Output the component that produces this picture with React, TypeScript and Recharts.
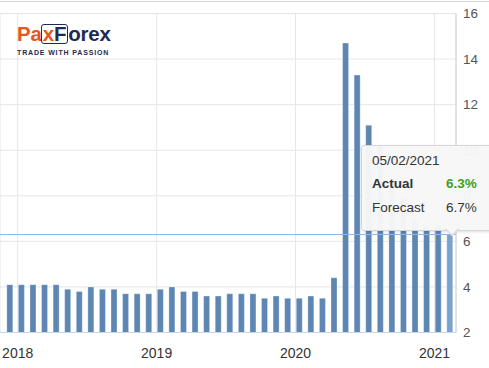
import React from "react";
import { ComposedChart, Bar, XAxis, YAxis, CartesianGrid, ReferenceLine, Cell } from "recharts";

// Release month of each US unemployment-rate print (YYYY-MM)
const releaseMonths = [
  "2017-12",
  "2018-01", "2018-02", "2018-03", "2018-04", "2018-05", "2018-06",
  "2018-07", "2018-08", "2018-09", "2018-10", "2018-11", "2018-12",
  "2019-01", "2019-02", "2019-03", "2019-04", "2019-05", "2019-06",
  "2019-07", "2019-08", "2019-09", "2019-10", "2019-11", "2019-12",
  "2020-01", "2020-02", "2020-03", "2020-04", "2020-05", "2020-06",
  "2020-07", "2020-08", "2020-09", "2020-10", "2020-11", "2020-12",
  "2021-01", "2021-02",
];

// Unemployment rate (%)
const unemploymentRate = [
  4.1,
  4.1, 4.1, 4.1, 4.1, 3.9, 3.8,
  4.0, 3.9, 3.9, 3.7, 3.7, 3.7,
  3.9, 4.0, 3.8, 3.8, 3.6, 3.6,
  3.7, 3.7, 3.7, 3.5, 3.6, 3.5,
  3.5, 3.6, 3.5, 4.4, 14.7, 13.3,
  11.1, 10.2, 8.4, 7.9, 6.9, 6.7,
  6.7, 6.3,
];

const yearTickValues = [0, 12, 24, 36];
const yearTickLabels = ["2018", "2019", "2020", "2021"];
const yTicks = [2, 4, 6, 8, 10, 12, 14, 16];

const tooltipDate = "05/02/2021";
const actualValue = 6.3;
const forecastValue = 6.7;

const data = releaseMonths.map((ym, i) => {
  const [y, mo] = ym.split("-").map(Number);
  return { m: (y - 2018) * 12 + (mo - 1) + 0.3, rate: unemploymentRate[i] };
});

const FONT = '"Liberation Sans", Arial, sans-serif';
const NAVY = "#1f2b50";
const ORANGE = "#e8561f";

export default function App() {
  const lastIndex = data.length - 1;
  return (
    <div style={{ position: "relative", width: 489, height: 368, overflow: "hidden", background: "#fff", fontFamily: FONT }}>
      <style>{`body{margin:0;}`}</style>
      <div style={{ position: "absolute", left: 0, top: 1, width: 489, height: 1, background: "#d4d4d4" }} />
      <ComposedChart
        width={489}
        height={368}
        data={data}
        margin={{ top: 13.5, right: 0, bottom: 0, left: 0 }}
      >
        <CartesianGrid stroke="#e6e6e6" strokeWidth={1} />
        <XAxis
          dataKey="m"
          type="number"
          domain={[-1.529, 37.856]}
          allowDataOverflow
          ticks={yearTickValues}
          tickFormatter={(v: number) => yearTickLabels[yearTickValues.indexOf(v)] ?? ""}
          height={35.5}
          tickLine={false}
          tickMargin={9.5}
          axisLine={{ stroke: "#ccd6eb", strokeWidth: 1 }}
          tick={{ fill: "#333333", fontSize: 14, fontFamily: FONT }}
        />
        <YAxis
          orientation="right"
          width={33}
          domain={[2, 16]}
          ticks={yTicks}
          allowDataOverflow
          tickLine={false}
          tickMargin={1}
          axisLine={{ stroke: "#d0d0d0", strokeWidth: 1 }}
          tick={{ fill: "#555555", fontSize: 13.5, fontFamily: FONT }}
        />
        <Bar
          dataKey="rate"
          barSize={6}
          isAnimationActive={false}
          fill="#5d86b3"
          stroke="rgba(255,255,255,0.3)"
          strokeWidth={1}
        >
          {data.map((_, i) => (
            <Cell key={i} fill={i === lastIndex ? "#7ba2cf" : "#5d86b3"} />
          ))}
        </Bar>
        <ReferenceLine y={actualValue} stroke="#8ab8ea" strokeWidth={1} ifOverflow="extendDomain" />
      </ComposedChart>

      {/* Logo */}
      <div style={{ position: "absolute", left: 17, top: 22.7, fontSize: 20.5, lineHeight: "21px", fontWeight: 700, whiteSpace: "nowrap", letterSpacing: -0.2 }}>
        <span style={{ color: ORANGE }}>Pa</span>
        <span style={{ display: "inline-block", border: `1.5px solid ${NAVY}`, borderRadius: 3, lineHeight: "18px", padding: "0 1px", marginLeft: -1 }}>
          <span style={{ color: ORANGE }}>x</span>
          <span style={{ color: NAVY }}>F</span>
        </span>
        <span style={{ color: NAVY }}>orex</span>
      </div>
      <div style={{ position: "absolute", left: 17, top: 48.5, fontSize: 7, lineHeight: "8px", fontWeight: 700, letterSpacing: 0.85, color: NAVY, whiteSpace: "nowrap" }}>
        TRADE WITH PASSION
      </div>

      {/* Tooltip */}
      <div
        style={{
          position: "absolute",
          left: 361,
          top: 145,
          width: 140,
          height: 86,
          boxSizing: "border-box",
          background: "rgba(247,247,247,0.97)",
          border: "1px solid #d6d6d6",
          borderRadius: 3,
          boxShadow: "1px 1px 3px rgba(0,0,0,0.12)",
          color: "#333333",
          fontSize: 13.5,
          lineHeight: "16px",
        }}
      >
        <div style={{ position: "absolute", left: 10, top: 6.8, whiteSpace: "nowrap" }}>{tooltipDate}</div>
        <div style={{ position: "absolute", left: 10, top: 30.3, fontWeight: 700, whiteSpace: "nowrap" }}>Actual</div>
        <div style={{ position: "absolute", left: 84, top: 30.3, fontWeight: 700, color: "#3ca21c", whiteSpace: "nowrap" }}>
          {actualValue.toFixed(1)}%
        </div>
        <div style={{ position: "absolute", left: 10, top: 54.3, whiteSpace: "nowrap" }}>Forecast</div>
        <div style={{ position: "absolute", left: 84, top: 54.3, whiteSpace: "nowrap" }}>{forecastValue.toFixed(1)}%</div>
        <div
          style={{
            position: "absolute",
            left: 85,
            top: 78,
            width: 9,
            height: 9,
            background: "rgb(247,247,247)",
            borderRight: "1px solid #d6d6d6",
            borderBottom: "1px solid #d6d6d6",
            transform: "rotate(45deg)",
          }}
        />
      </div>
    </div>
  );
}
